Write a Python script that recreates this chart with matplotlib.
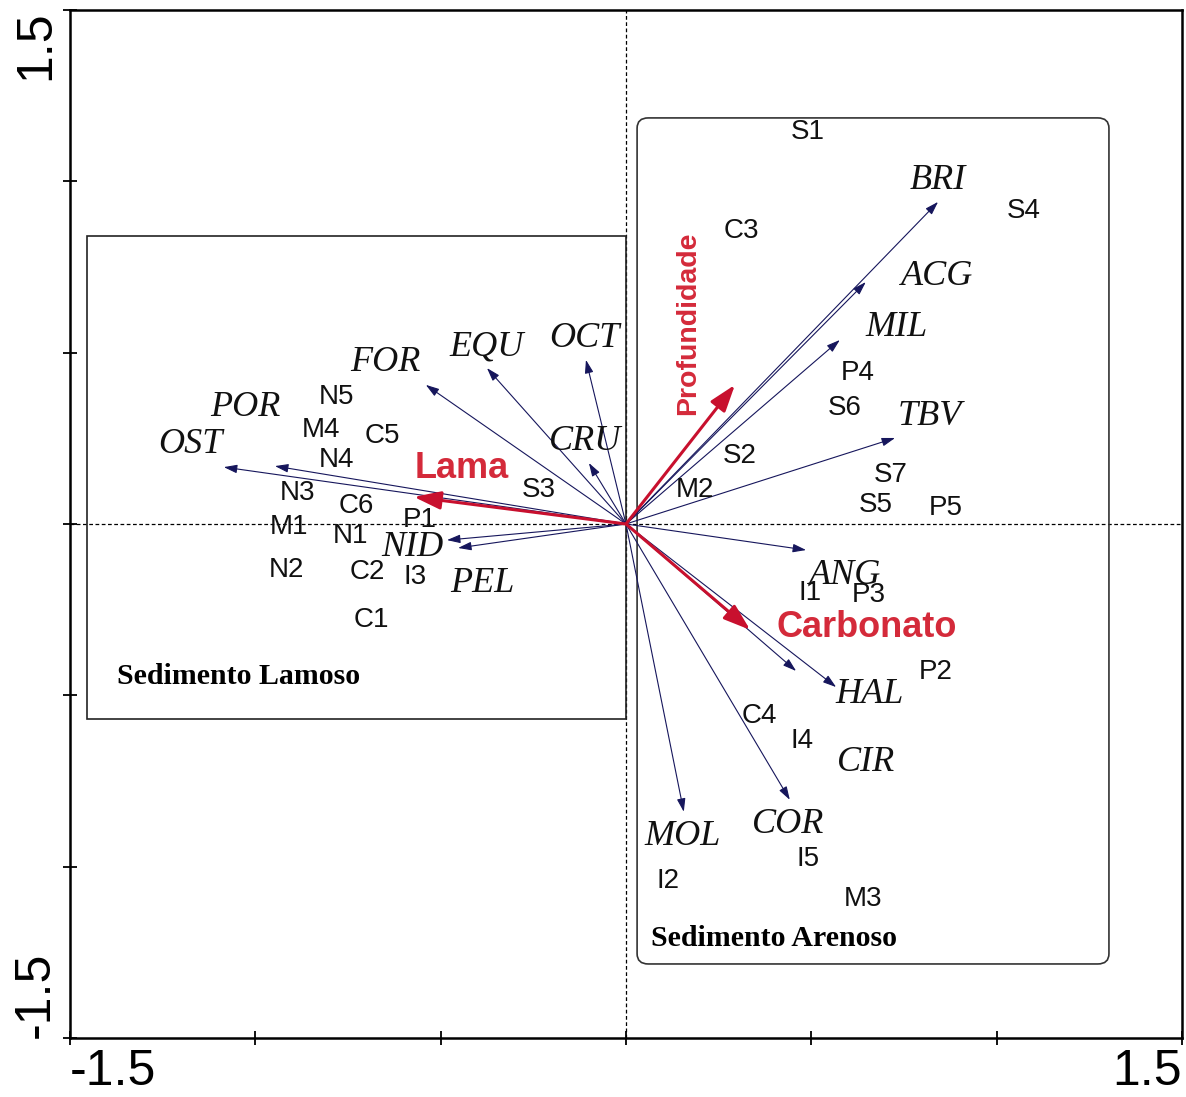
import matplotlib
matplotlib.use("Agg")
import matplotlib.pyplot as plt
from matplotlib.patches import Rectangle, FancyBboxPatch

# species scores (arrow tips) and where their labels sit
species = ["BRI", "ACG", "MIL", "TBV", "ANG", "HAL", "CIR", "COR", "MOL",
           "OCT", "CRU", "EQU", "FOR", "POR", "OST", "NID", "PEL"]
sp_x = [0.842, 0.647, 0.577, 0.726, 0.486, 0.567, 0.459, 0.442, 0.156,
        -0.108, -0.100, -0.375, -0.540, -0.947, -1.085, -0.483, -0.453]
sp_y = [0.940, 0.706, 0.537, 0.251, -0.076, -0.476, -0.429, -0.805, -0.840,
        0.479, 0.178, 0.455, 0.406, 0.169, 0.166, -0.047, -0.070]
sp_lab_x = [0.842, 0.839, 0.731, 0.820, 0.591, 0.658, 0.647, 0.437, 0.154,
            -0.111, -0.111, -0.375, -0.650, -1.028, -1.176, -0.577, -0.388]
sp_lab_y = [1.001, 0.721, 0.572, 0.315, -0.149, -0.499, -0.697, -0.878, -0.913,
            0.540, 0.242, 0.517, 0.470, 0.339, 0.231, -0.070, -0.175]

# sampling sites
sites = ["S1", "S4", "C3", "P4", "S6", "S2", "M2", "S7", "S5", "P5", "I1", "P3",
         "P2", "C4", "I4", "I5", "I2", "M3", "S3", "P1", "I3", "C2", "N1", "C6",
         "N3", "M1", "N2", "C1", "N4", "C5", "M4", "N5"]
site_x = [0.491, 1.074, 0.310, 0.626, 0.591, 0.308, 0.186, 0.715, 0.674, 0.863,
          0.496, 0.656, 0.836, 0.361, 0.475, 0.491, 0.113, 0.639, -0.235, -0.556,
          -0.569, -0.699, -0.742, -0.728, -0.885, -0.909, -0.915, -0.688, -0.780,
          -0.658, -0.823, -0.780]
site_y = [1.144, 0.913, 0.855, 0.441, 0.339, 0.198, 0.099, 0.143, 0.055, 0.047,
          -0.201, -0.207, -0.432, -0.560, -0.633, -0.978, -1.042, -1.094, 0.099,
          0.012, -0.155, -0.140, -0.035, 0.053, 0.090, -0.009, -0.134, -0.280,
          0.187, 0.257, 0.274, 0.371]

# environmental variables
env = ["Profundidade", "Lama", "Carbonato"]
env_x = [0.294, -0.572, 0.335]
env_y = [0.406, 0.079, -0.309]
env_lab_x = [0.167, -0.442, 0.650]
env_lab_y = [0.587, 0.163, -0.301]
env_rot = [90, 0, 0]

ticks = [-1.5, -1.0, -0.5, 0.0, 0.5, 1.0, 1.5]

fig = plt.figure(figsize=(11.86, 10.97), dpi=100)
ax = fig.add_axes([0.059, 0.0538, 0.9376, 0.9371])
ax.set_xlim(-1.5, 1.5)
ax.set_ylim(-1.5, 1.5)

ax.axhline(0, color="black", lw=0.9, ls=(0, (3, 2)), zorder=1)
ax.axvline(0, color="black", lw=0.9, ls=(0, (3, 2)), zorder=1)

# habitat groups
ax.add_patch(Rectangle((-1.454, -0.569), 1.454, 0.840 + 0.569,
                       fill=False, ec="#222222", lw=1.2, zorder=1))
ax.add_patch(FancyBboxPatch((0.030, -1.284), 1.303 - 0.030, 1.185 + 1.284,
                            boxstyle="round,pad=0,rounding_size=0.03",
                            fill=False, ec="#333333", lw=1.2, zorder=1))
ax.text(-1.373, -0.445, "Sedimento Lamoso", family="Liberation Serif",
        weight="bold", fontsize=21.5, ha="left", va="center")
ax.text(0.068, -1.210, "Sedimento Arenoso", family="Liberation Serif",
        weight="bold", fontsize=21.5, ha="left", va="center")

for name, x, y, lx, ly in zip(species, sp_x, sp_y, sp_lab_x, sp_lab_y):
    ax.annotate("", xy=(x, y), xytext=(0, 0),
                arrowprops=dict(arrowstyle="-|>,head_length=0.5,head_width=0.16",
                                mutation_scale=16, lw=0.8, color="#16165c",
                                shrinkA=0, shrinkB=0), zorder=2)
    ax.text(lx, ly, name, family="Liberation Serif", style="italic",
            fontsize=26, ha="center", va="center", color="#111111", zorder=3)

for name, x, y in zip(sites, site_x, site_y):
    ax.text(x, y, name, family="Liberation Sans", fontsize=20,
            ha="center", va="center", color="#111111", zorder=3)

for name, x, y, lx, ly, r in zip(env, env_x, env_y, env_lab_x, env_lab_y, env_rot):
    ax.annotate("", xy=(x, y), xytext=(0, 0),
                arrowprops=dict(arrowstyle="-|>,head_length=0.65,head_width=0.22",
                                mutation_scale=25, lw=2.2, color="#c8102e",
                                shrinkA=0, shrinkB=0), zorder=4)
    ax.text(lx, ly, name, family="Liberation Sans", weight="bold",
            fontsize=20.5 if r else 26, rotation=r, ha="center", va="center",
            color="#d42a3a", zorder=4)

for s in ax.spines.values():
    s.set_linewidth(1.8)

ax.set_xticks(ticks)
ax.set_yticks(ticks)
ax.set_xticklabels(["-1.5", "", "", "", "", "", "1.5"])
ax.set_yticklabels(["-1.5", "", "", "", "", "", "1.5"], rotation=90)
ax.tick_params(direction="inout", length=10, width=1.3, labelsize=36, pad=3)
xl = ax.get_xticklabels()
xl[0].set_ha("left")
xl[-1].set_ha("right")
yl = ax.get_yticklabels()
yl[0].set_va("bottom")
yl[-1].set_va("top")
for t in xl + yl:
    t.set_family("Liberation Sans")

fig.savefig("out.png", dpi=100)
